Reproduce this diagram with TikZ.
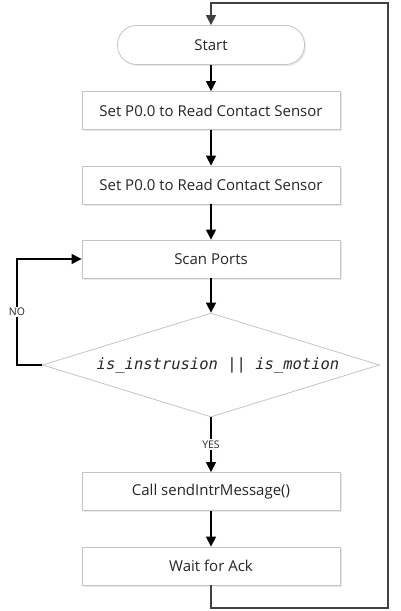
\documentclass[tikz,border=0pt]{standalone}
\usepackage{fontspec}
\setmainfont{Open Sans}
\newfontfamily\codefont{DejaVu Sans Mono}
\usetikzlibrary{shapes.geometric,arrows.meta,shadows}
\definecolor{boxline}{HTML}{C4C4C4}
\definecolor{loopline}{HTML}{404040}
\definecolor{txt}{HTML}{262626}
\tikzset{
  procbox/.style={draw=boxline, line width=0.8pt, fill=white, minimum width=258pt, minimum height=38pt, inner sep=0pt, text=txt, font=\fontsize{15}{18}\selectfont,
    drop shadow={opacity=0.18, shadow xshift=1.5pt, shadow yshift=-1.5pt}},
  startbox/.style={procbox, minimum width=187pt, minimum height=39pt, rounded corners=19pt},
  decbox/.style={shape=diamond, draw=boxline, line width=0.8pt, fill=white, inner sep=0pt, minimum width=337pt, minimum height=104pt, aspect=3.24},
  dectext/.style={text=txt, font=\codefont\itshape\fontsize{15.5}{17}\selectfont},
  flow/.style={line width=1.4pt, draw=black, -{Triangle[length=10pt,width=10pt]}},
  lbl/.style={fill=white, inner sep=1.5pt, text=txt, font=\fontsize{10.5}{12}\selectfont}
}
\begin{document}
\begin{tikzpicture}[x=1pt,y=-1pt]
\useasboundingbox (0,0) rectangle (400,611);
\node[startbox] (start) at (211,45) {Start};
\node[procbox] (set1) at (211,110.5) {Set P0.0 to Read Contact Sensor};
\node[procbox] (set2) at (211,185) {Set P0.0 to Read Contact Sensor};
\node[procbox] (scan) at (211,259) {Scan Ports};
\node[decbox] (dec) at (211,365) {};
\node[dectext] (dect) at (218,365) {is\_instrusion || is\_motion};
\node[procbox] (call) at (211,491.5) {Call sendIntrMessage()};
\node[procbox] (wait) at (211,566) {Wait for Ack};
\coordinate (nl) at (17,365);
\coordinate (br) at (388,608);
\coordinate (tr) at (388,3);
\draw[flow] (start) -- (set1);
\draw[flow] (set1) -- (set2);
\draw[flow] (set2) -- (scan);
\draw[flow] (scan) -- (dec);
\draw[flow] (dec.south) -- node[lbl, pos=0.5] {YES} (call.north);
\draw[flow] (call) -- (wait);
\draw[flow] (dec.west) -- (nl) -- node[lbl, pos=0.5] {NO} (nl |- scan.west) -- (scan.west);
\draw[line width=1.4pt, draw=loopline, -{Triangle[length=10pt,width=10pt]}] (wait.south) |- (br) -- (tr) -| (start.north);
\end{tikzpicture}
\end{document}
